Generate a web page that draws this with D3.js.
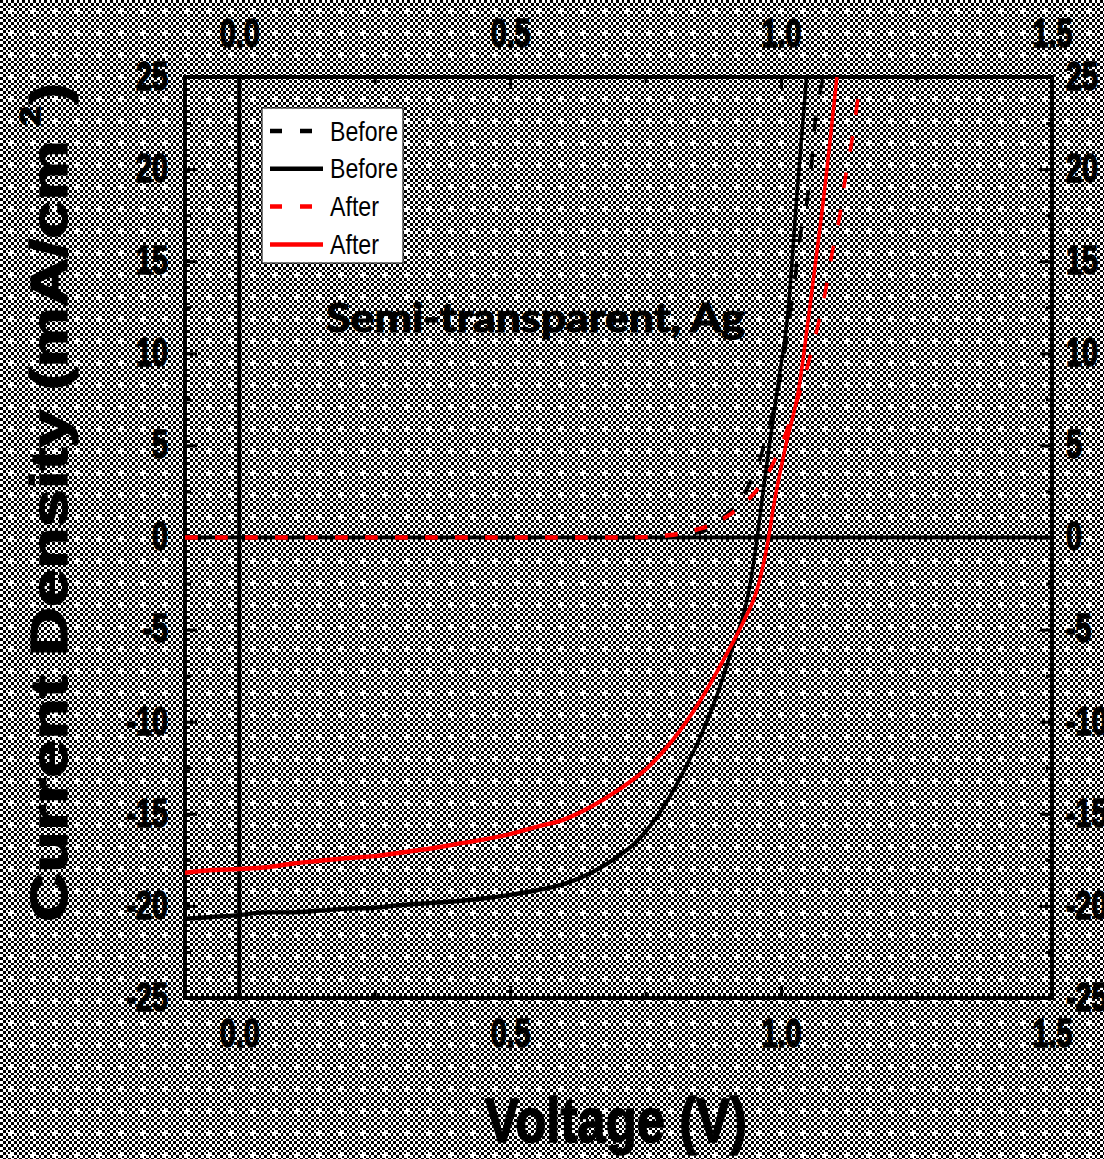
<!DOCTYPE html>
<html>
<head>
<meta charset="utf-8">
<script src="https://cdn.jsdelivr.net/npm/d3@7"></script>
<style>
  html, body { margin: 0; padding: 0; background: #fff; }
  svg { display: block; }
</style>
</head>
<body>
<script>
// J–V characteristics of a semi-transparent Ag cell, before and after.

// Dark current, before
const beforeDarkV = [-0.1, 0.0, 0.1, 0.2, 0.3, 0.4, 0.5, 0.6, 0.7, 0.75, 0.8, 0.83, 0.86, 0.89, 0.919, 0.94, 0.956, 0.976, 0.992, 1.005, 1.017, 1.026, 1.035, 1.048, 1.057, 1.063, 1.072, 1.078];
const beforeDarkJ = [0, 0, 0, 0, 0, 0, 0, 0, 0, 0.01, 0.08, 0.2, 0.4, 1.0, 1.84, 2.8, 3.83, 5.82, 7.63, 9.8, 12.2, 14.1, 16.3, 18.3, 20.5, 22.6, 24.2, 25];

// Illuminated, before
const beforeLightV = [-0.1, -0.05, 0.0, 0.05, 0.1, 0.15, 0.2, 0.25, 0.3, 0.35, 0.4, 0.45, 0.5, 0.55, 0.6, 0.65, 0.7, 0.73, 0.76, 0.79, 0.82, 0.85, 0.88, 0.91, 0.94, 0.956, 0.966, 0.978, 0.995, 1.013, 1.029, 1.047];
const beforeLightJ = [-20.7, -20.6, -20.5, -20.35, -20.35, -20.25, -20.15, -20.1, -19.95, -19.85, -19.75, -19.6, -19.4, -19.15, -18.8, -18.2, -17.3, -16.6, -15.6, -14.3, -12.7, -10.9, -8.7, -6.0, -3.0, 0, 2.3, 4.9, 8.4, 12.3, 18.5, 25];

// Dark current, after
const afterDarkV = [-0.1, 0.0, 0.1, 0.2, 0.3, 0.4, 0.5, 0.6, 0.7, 0.75, 0.792, 0.82, 0.847, 0.875, 0.903, 0.93, 0.955, 0.978, 0.999, 1.02, 1.042, 1.063, 1.082, 1.094, 1.109, 1.118, 1.131, 1.143];
const afterDarkJ = [0, 0, 0, 0, 0, 0, 0, 0, 0, 0.02, 0.12, 0.25, 0.45, 0.75, 1.2, 1.8, 2.57, 3.6, 4.9, 6.6, 8.6, 10.9, 13.4, 15.4, 17.6, 19.4, 21.6, 24.1];

// Illuminated, after
const afterLightV = [-0.1, -0.05, 0.0, 0.05, 0.1, 0.15, 0.2, 0.25, 0.3, 0.35, 0.4, 0.45, 0.5, 0.55, 0.6, 0.65, 0.7, 0.75, 0.8, 0.85, 0.9, 0.93, 0.956, 0.977, 0.986, 1.008, 1.035, 1.042, 1.06, 1.078, 1.103];
const afterLightJ = [-18.2, -18.05, -18.0, -17.9, -17.7, -17.55, -17.4, -17.3, -17.1, -16.9, -16.65, -16.4, -16.1, -15.7, -15.3, -14.6, -13.7, -12.6, -11.0, -8.9, -6.3, -4.6, -2.8, 0, 1.66, 4.9, 8.5, 10.0, 14.1, 18.3, 25];

const seriesNames = ["Before", "Before", "After", "After"];
const seriesColors = ["#000000", "#000000", "#ff0000", "#ff0000"];
const seriesDashed = [true, false, true, false];

const xMajorTicks = [0.0, 0.5, 1.0, 1.5];
const xMinorTicks = [0.25, 0.75, 1.25];
const yMajorTicks = [-25, -20, -15, -10, -5, 0, 5, 10, 15, 20, 25];
const yMinorTicks = [-22.5, -17.5, -12.5, -7.5, -2.5, 2.5, 7.5, 12.5, 17.5, 22.5];

const annotation = "Semi-transparent, Ag";
const xTitle = "Voltage (V)";
const yTitleMain = "Current Density (mA/cm";

const W = 1104, H = 1159;
const L = 185, R = 1052, T = 77, B = 998;

const x = d3.scaleLinear().domain([-0.1, 1.5]).range([L, R]);
const y = d3.scaleLinear().domain([-25, 25]).range([B, T]);

const svg = d3.select("body").append("svg")
  .attr("width", W).attr("height", H)
  .attr("viewBox", `0 0 ${W} ${H}`);

const defs = svg.append("defs");

// fine black/white checker texture that covers the whole figure
const cell = 2.75, tile = 22;
const pat = defs.append("pattern")
  .attr("id", "grain").attr("patternUnits", "userSpaceOnUse")
  .attr("width", tile).attr("height", tile);
pat.append("rect").attr("width", tile).attr("height", tile).attr("fill", "#fff");
const cells = [];
for (let i = 0; i < tile / cell; i++)
  for (let j = 0; j < tile / cell; j++)
    if ((i + j) % 2 === 0) cells.push([i, j]);
pat.selectAll("rect.c").data(cells).join("rect")
  .attr("class", "c")
  .attr("x", d => d[0] * cell).attr("y", d => d[1] * cell)
  .attr("width", cell).attr("height", cell)
  .attr("fill", "#000").attr("shape-rendering", "crispEdges");
pat.append("rect").attr("x", 8).attr("y", 10).attr("width", 6).attr("height", 2).attr("fill", "#fff").attr("shape-rendering", "crispEdges");
pat.append("rect").attr("x", 10).attr("y", 8).attr("width", 2).attr("height", 6).attr("fill", "#fff").attr("shape-rendering", "crispEdges");

svg.append("rect").attr("width", W).attr("height", H).attr("fill", "url(#grain)");

defs.append("clipPath").attr("id", "plotClip")
  .append("rect").attr("x", L).attr("y", T).attr("width", R - L).attr("height", B - T);

// squeeze text horizontally to its drawn width
function squeeze(sel, k) {
  sel.each(function () {
    const w = this.getComputedTextLength();
    d3.select(this).attr("textLength", w * k).attr("lengthAdjust", "spacingAndGlyphs");
  });
}

const tickFont = "'Liberation Sans', Arial, sans-serif";

// inward ticks on all four sides
function tickAxis(axis, tx, ty, values, size) {
  const g = svg.append("g").attr("transform", `translate(${tx},${ty})`)
    .call(axis.tickValues(values).tickSize(size).tickFormat(""));
  g.select(".domain").remove();
  g.selectAll(".tick line").attr("stroke", "#000").attr("stroke-width", 3);
  return g;
}
tickAxis(d3.axisRight(y), L, 0, yMajorTicks, 12);
tickAxis(d3.axisRight(y), L, 0, yMinorTicks, 6);
tickAxis(d3.axisLeft(y), R, 0, yMajorTicks, 12);
tickAxis(d3.axisLeft(y), R, 0, yMinorTicks, 6);
tickAxis(d3.axisTop(x), 0, B, xMajorTicks, 12);
tickAxis(d3.axisTop(x), 0, B, xMinorTicks, 6);
tickAxis(d3.axisBottom(x), 0, T, xMajorTicks, 12);
tickAxis(d3.axisBottom(x), 0, T, xMinorTicks, 6);

// tick labels
function labelAxis(axis, tx, ty, values, fmt, pad) {
  const g = svg.append("g").attr("transform", `translate(${tx},${ty})`)
    .call(axis.tickValues(values).tickSize(0).tickPadding(pad).tickFormat(fmt));
  g.select(".domain").remove();
  g.selectAll(".tick text")
    .attr("font-family", tickFont).attr("font-weight", "bold")
    .attr("font-size", 41).attr("fill", "#000")
    .attr("stroke", "#000").attr("stroke-width", 1.4);
  squeeze(g.selectAll(".tick text"), 0.7);
  return g;
}
const yFmt = d => String(d);
const xFmt = d => d.toFixed(1);
labelAxis(d3.axisLeft(y), L, 0, yMajorTicks, yFmt, 17).selectAll(".tick text").attr("dy", "0.3em");
labelAxis(d3.axisRight(y), R, 0, yMajorTicks, yFmt, 14).selectAll(".tick text").attr("dy", "0.3em");
labelAxis(d3.axisBottom(x), 0, B, xMajorTicks, xFmt, 20).selectAll(".tick text").attr("dy", "0.71em");
labelAxis(d3.axisTop(x), 0, T, xMajorTicks, xFmt, 30);

// frame and zero lines
svg.append("rect").attr("x", L).attr("y", T).attr("width", R - L).attr("height", B - T)
  .attr("fill", "none").attr("stroke", "#000").attr("stroke-width", 4);
svg.append("line").attr("x1", x(0)).attr("x2", x(0)).attr("y1", T).attr("y2", B)
  .attr("stroke", "#000").attr("stroke-width", 4);
svg.append("line").attr("x1", L).attr("x2", R).attr("y1", y(0)).attr("y2", y(0))
  .attr("stroke", "#000").attr("stroke-width", 4);

// curves, drawn in a horizontally compressed frame
const sx = 0.8;
const xs = d3.scaleLinear().domain(x.domain()).range([L / sx, R / sx]);
const series = [
  { v: beforeDarkV, j: beforeDarkJ },
  { v: beforeLightV, j: beforeLightJ },
  { v: afterDarkV, j: afterDarkJ },
  { v: afterLightV, j: afterLightJ }
];
const line = d3.line().x(d => xs(d[0])).y(d => y(d[1])).curve(d3.curveMonotoneX);
const curves = svg.append("g").attr("clip-path", "url(#plotClip)")
  .append("g").attr("transform", `scale(${sx},1)`);
curves.selectAll("path").data(series).join("path")
  .attr("d", s => line(s.v.map((v, i) => [v, s.j[i]])))
  .attr("fill", "none")
  .attr("stroke", (s, i) => seriesColors[i])
  .attr("stroke-width", 4.4)
  .attr("stroke-linejoin", "round")
  .attr("stroke-dasharray", (s, i) => seriesDashed[i] ? "16,21.5" : null);

// legend
const lg = svg.append("g");
lg.append("rect").attr("x", 262).attr("y", 108).attr("width", 141).attr("height", 155)
  .attr("fill", "#fff").attr("stroke", "#222").attr("stroke-width", 1.2);
const rows = lg.selectAll("g.row").data(seriesNames).join("g")
  .attr("class", "row")
  .attr("transform", (d, i) => `translate(0,${131 + i * 37.8})`);
rows.append("line").attr("x1", 270).attr("x2", 323)
  .attr("stroke", (d, i) => seriesColors[i]).attr("stroke-width", 4.5)
  .attr("stroke-dasharray", (d, i) => seriesDashed[i] ? "12,18" : null);
rows.append("text").attr("x", 330).attr("y", 9.5)
  .attr("font-family", tickFont).attr("font-size", 28).attr("fill", "#000")
  .text(d => d)
  .attr("textLength", d => d === "Before" ? 68 : 49).attr("lengthAdjust", "spacingAndGlyphs");

// annotation
svg.append("text").attr("x", 326).attr("y", 332)
  .attr("font-family", "Lato, 'Open Sans', sans-serif").attr("font-weight", "bold")
  .attr("font-size", 40).attr("fill", "#000")
  .attr("stroke", "#000").attr("stroke-width", 1.2)
  .attr("textLength", 419).attr("lengthAdjust", "spacingAndGlyphs")
  .text(annotation);

// axis titles
svg.append("text").attr("x", 616).attr("y", 1142).attr("text-anchor", "middle")
  .attr("font-family", tickFont).attr("font-weight", "bold").attr("font-size", 63)
  .attr("stroke", "#000").attr("stroke-width", 1.5)
  .attr("textLength", 262).attr("lengthAdjust", "spacingAndGlyphs")
  .text(xTitle);

const yt = svg.append("g").attr("transform", "translate(67,922) scale(0.82,1) rotate(-90)")
  .attr("font-family", tickFont).attr("font-weight", "bold")
  .attr("stroke", "#000").attr("stroke-width", 1.5);
yt.append("text").attr("x", 0).attr("y", 0)
  .attr("font-size", 63)
  .attr("textLength", 782).attr("lengthAdjust", "spacingAndGlyphs")
  .text(yTitleMain);
yt.append("text").attr("x", 796).attr("y", -33)
  .attr("font-size", 36)
  .text("2");
yt.append("text").attr("x", 818).attr("y", 0)
  .attr("font-size", 63)
  .text(")");
</script>
</body>
</html>
